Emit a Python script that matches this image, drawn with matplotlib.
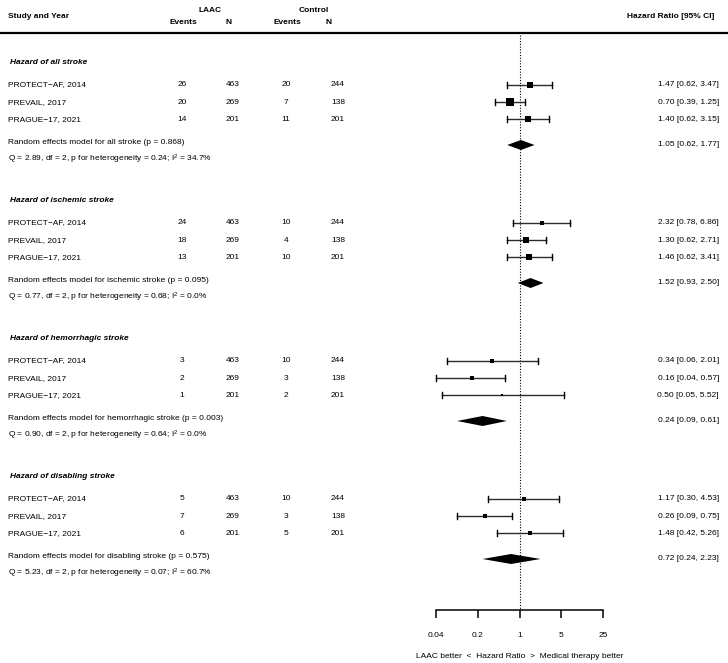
import numpy as np
import matplotlib
matplotlib.use("Agg")
import matplotlib.pyplot as plt

plt.rcParams["font.family"] = ["Liberation Sans", "DejaVu Sans"]
plt.rcParams["font.size"] = 6

# ── Data ───────────────────────────────────────────────────────────────────
outcomes = ["all stroke", "ischemic stroke", "hemorrhagic stroke", "disabling stroke"]
studies = ["PROTECT\u2212AF, 2014", "PREVAIL, 2017", "PRAGUE\u221217, 2021"]
laac_n = [463, 269, 201]
ctrl_n = [244, 138, 201]
laac_events = [[26, 20, 14], [24, 18, 13], [3, 2, 1], [5, 7, 6]]
ctrl_events = [[20, 7, 11], [10, 4, 10], [10, 3, 2], [10, 3, 5]]
hr = [[1.47, 0.70, 1.40], [2.32, 1.30, 1.46], [0.34, 0.16, 0.50], [1.17, 0.26, 1.48]]
hr_lo = [[0.62, 0.39, 0.62], [0.78, 0.62, 0.62], [0.06, 0.04, 0.05], [0.30, 0.09, 0.42]]
hr_hi = [[3.47, 1.25, 3.15], [6.86, 2.71, 3.41], [2.01, 0.57, 5.52], [4.53, 0.75, 5.26]]
weights = [[4.0, 6.5, 4.0], [3.3, 4.8, 4.0], [1.6, 2.7, 0.9], [2.1, 3.3, 2.7]]
pooled_hr = [1.05, 1.52, 0.24, 0.72]
pooled_lo = [0.62, 0.93, 0.09, 0.24]
pooled_hi = [1.77, 2.50, 0.61, 2.23]
pooled_p = ["0.868", "0.095", "0.003", "0.575"]
q_stat = ["2.89", "0.77", "0.90", "5.23"]
het_p = ["0.24", "0.68", "0.64", "0.07"]
i2 = ["34.7", "0.0", "0.0", "60.7"]
xticks = [0.04, 0.2, 1, 5, 25]

# ── Layout (pixel coordinates, y downward) ─────────────────────────────────
W, H = 728, 663
ROW = 17.2
SECTION = 138
FIRST = 85
AXIS_Y = 610
X_LO, X_HI = 436, 603.3

fig = plt.figure(figsize=(W / 100, H / 100), dpi=100)
tx = fig.add_axes([0, 0, 1, 1])
tx.set_xlim(0, W)
tx.set_ylim(H, 0)
tx.axis("off")

ax = fig.add_axes([X_LO / W, 0, (X_HI - X_LO) / W, 1])
ax.set_xscale("log")
ax.set_xlim(xticks[0], xticks[-1])
ax.set_ylim(H, 0)
ax.patch.set_alpha(0)
for s in ["top", "left", "right"]:
    ax.spines[s].set_visible(False)
ax.spines["bottom"].set_position(("data", AXIS_Y))
ax.spines["bottom"].set_linewidth(1.1)
ax.set_yticks([])
ax.set_xticks(xticks)
ax.set_xticklabels([f"{t:g}" for t in xticks])
ax.xaxis.set_minor_locator(matplotlib.ticker.NullLocator())
ax.tick_params(axis="x", length=5.8, width=1.1, pad=10, labelsize=6)

# header
tx.text(8, 16, "Study and Year", fontweight="bold", va="center")
tx.text(210, 11, "LAAC", fontweight="bold", ha="center", va="center")
tx.text(314, 11, "Control", fontweight="bold", ha="center", va="center")
for xc, lab in [(183, "Events"), (229, "N"), (287, "Events"), (329, "N")]:
    tx.text(xc, 23, lab, fontweight="bold", ha="center", va="center")
tx.text(714, 16, "Hazard Ratio [95% CI]", fontweight="bold", ha="right", va="center")
tx.plot([0, W], [33, 33], color="black", lw=1.6)

# reference line at HR = 1
ax.plot([1, 1], [35, AXIS_Y], color="black", lw=0.8, ls=(0, (1, 1.5)))

for k, name in enumerate(outcomes):
    y0 = FIRST + SECTION * k
    tx.text(10, y0 - 22, f"Hazard of {name}", fontweight="bold",
            fontstyle="italic", va="center")
    for i, st in enumerate(studies):
        y = y0 + ROW * i
        tx.text(8, y, st, va="center")
        tx.text(182, y, str(laac_events[k][i]), ha="center", va="center")
        tx.text(233, y, str(laac_n[i]), ha="center", va="center")
        tx.text(286, y, str(ctrl_events[k][i]), ha="center", va="center")
        tx.text(338, y, str(ctrl_n[i]), ha="center", va="center")
        tx.text(719, y, f"{hr[k][i]:.2f} [{hr_lo[k][i]:.2f}, {hr_hi[k][i]:.2f}]",
                ha="right", va="center")
        ax.plot([hr_lo[k][i], hr_hi[k][i]], [y, y], color="#2b2b2b", lw=1.0,
                clip_on=False)
        for xe in (hr_lo[k][i], hr_hi[k][i]):
            ax.plot([xe, xe], [y - 3, y + 3], color="black", lw=1.0, clip_on=False)
        side = 2.75 * np.sqrt(weights[k][i]) * 0.72
        ax.plot(hr[k][i], y, marker="s", ms=side, color="black", mew=0,
                clip_on=False)
    # pooled estimate
    yd = y0 + 60
    tx.text(8, yd - 3, f"Random effects model for {name} (p = {pooled_p[k]})",
            va="center")
    tx.text(8, yd + 14,
            f"Q = {q_stat[k]}, df = 2, p for heterogeneity = {het_p[k]}; "
            r"$\mathregular{I^2}$" f" = {i2[k]}%", va="center")
    ax.fill([pooled_lo[k], pooled_hr[k], pooled_hi[k], pooled_hr[k]],
            [yd, yd - 5, yd, yd + 5], color="black", lw=0, clip_on=False)
    tx.text(719, yd, f"{pooled_hr[k]:.2f} [{pooled_lo[k]:.2f}, {pooled_hi[k]:.2f}]",
            ha="right", va="center")

tx.text(519.3, 657, "LAAC better  <  Hazard Ratio  >  Medical therapy better",
        ha="center", va="center")

fig.savefig("out.png", dpi=100)
